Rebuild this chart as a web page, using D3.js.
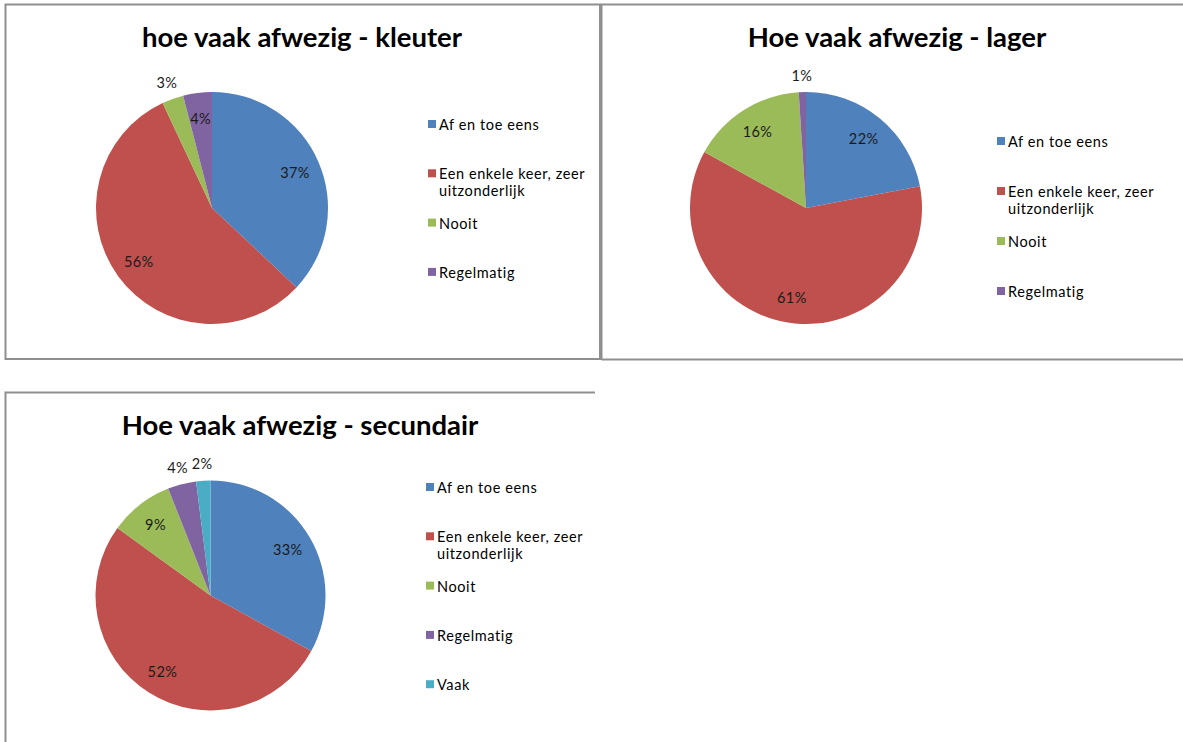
<!DOCTYPE html>
<html>
<head>
<meta charset="utf-8">
<script src="https://cdn.jsdelivr.net/npm/d3@7"></script>
<style>
  body { margin: 0; background: #fff; }
  svg { display: block; font-family: Lato, "Open Sans", sans-serif; }
</style>
</head>
<body>
<script>
// categories and values (percent) per chart
const categories = ["Af en toe eens", "Een enkele keer, zeer uitzonderlijk", "Nooit", "Regelmatig", "Vaak"];
const kleuterValues = [37, 56, 3, 4];
const lagerValues = [22, 61, 16, 1];
const secundairValues = [33, 52, 9, 4, 2];
const titles = ["hoe vaak afwezig - kleuter", "Hoe vaak afwezig - lager", "Hoe vaak afwezig - secundair"];

const colors = ["#4f81bd", "#c0504d", "#9bbb59", "#8064a2", "#4bacc6"];

const width = 1183, height = 742;

const svg = d3.select("body").append("svg")
    .attr("width", width)
    .attr("height", height);

// panel frames (the third one runs off the bottom of the screenshot)
const frame = svg.append("g")
    .attr("fill", "none")
    .attr("stroke", "#8f8f8f")
    .attr("stroke-width", 2);
frame.append("rect").attr("x", 5.5).attr("y", 4.5).attr("width", 594.5).attr("height", 354.5);
frame.append("path").attr("d", "M601.5,360 V4.5 H1183 M601.5,359.5 H1183");
frame.append("path").attr("d", "M5.5,742 V392.5 H595");

function wrap(text, maxWidth) {
    text.each(function() {
        const t = d3.select(this);
        const words = t.text().split(" ");
        const x = t.attr("x");
        t.text(null);
        let line = [];
        let tspan = t.append("tspan").attr("x", x);
        for (const w of words) {
            line.push(w);
            tspan.text(line.join(" "));
            if (tspan.node().getComputedTextLength() > maxWidth && line.length > 1) {
                line.pop();
                tspan.text(line.join(" "));
                line = [w];
                tspan = t.append("tspan").attr("x", x).attr("dy", 17).text(w);
            }
        }
    });
}

function drawPie(opts) {
    const data = opts.values.map((v, i) => ({name: categories[i], value: v, color: colors[i]}));
    const g = svg.append("g");

    g.append("text")
        .attr("x", opts.titleX)
        .attr("y", opts.titleY)
        .attr("text-anchor", "middle")
        .attr("font-size", 27.5)
        .attr("font-weight", "bold")
        .attr("fill", "#000")
        .text(opts.title);

    const pie = d3.pie().sort(null).value(d => d.value);
    const arc = d3.arc().innerRadius(0).outerRadius(opts.r);
    const arcs = pie(data);

    const chart = g.append("g").attr("transform", `translate(${opts.cx},${opts.cy})`);
    chart.selectAll("path")
        .data(arcs)
        .join("path")
        .attr("d", arc)
        .attr("fill", d => d.data.color);

    const inner = d3.arc().innerRadius(opts.r * 0.78).outerRadius(opts.r * 0.78);
    const outer = d3.arc().innerRadius(opts.r + 17).outerRadius(opts.r + 17);

    chart.selectAll("text")
        .data(arcs)
        .join("text")
        .attr("transform", d => {
            const c = (opts.outside.includes(d.index) ? outer : inner).centroid(d);
            return `translate(${c})`;
        })
        .attr("text-anchor", "middle")
        .attr("dominant-baseline", "central")
        .attr("font-size", 14.5)
        .attr("letter-spacing", 0.4)
        .attr("fill", "#1a1a1a")
        .text(d => d.data.value + "%");

    // legend
    const legend = g.append("g");
    let y = opts.legendY;
    data.forEach(d => {
        legend.append("rect")
            .attr("x", opts.legendX)
            .attr("y", y - 4)
            .attr("width", 8)
            .attr("height", 8)
            .attr("fill", d.color);
        const t = legend.append("text")
            .attr("x", opts.legendX + 11)
            .attr("y", y)
            .attr("dominant-baseline", "central")
            .attr("font-size", 14.5)
            .attr("letter-spacing", 0.6)
            .attr("fill", "#000")
            .text(d.name);
        t.call(wrap, 155);
        y += opts.legendStep;
    });
}

drawPie({title: titles[0], values: kleuterValues, titleX: 302, titleY: 47,
    cx: 212, cy: 208, r: 116, outside: [2],
    legendX: 428, legendY: 124, legendStep: 49.3});

drawPie({title: titles[1], values: lagerValues, titleX: 897, titleY: 47,
    cx: 806, cy: 208, r: 116, outside: [3],
    legendX: 997, legendY: 141, legendStep: 50});

drawPie({title: titles[2], values: secundairValues, titleX: 300, titleY: 435,
    cx: 210.5, cy: 595.5, r: 115, outside: [3, 4],
    legendX: 426, legendY: 487, legendStep: 49.3});
</script>
</body>
</html>
